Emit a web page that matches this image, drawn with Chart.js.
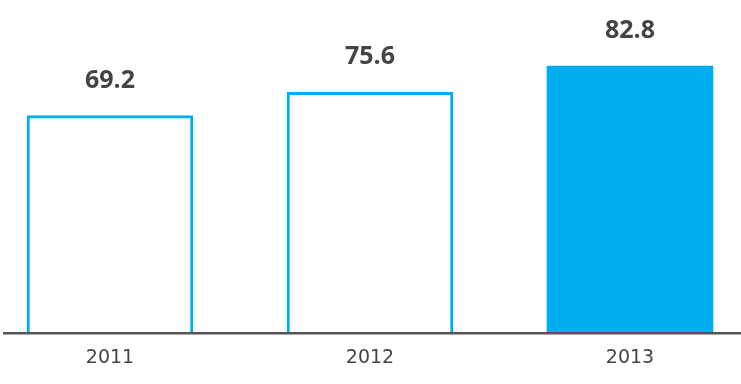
<!DOCTYPE html>
<html>
<head>
<meta charset="utf-8">
<script src="https://cdn.jsdelivr.net/npm/chart.js@4/dist/chart.umd.min.js"></script>
<style>
  html, body { margin: 0; padding: 0; background: #fff; }
  #wrap { width: 741px; height: 384px; }
</style>
</head>
<body>
<div id="wrap"><canvas id="c" width="741" height="384"></canvas></div>
<script>
const years = ['2011', '2012', '2013'];
const values = [69.2, 75.6, 82.8];
const fillColors = ['#ffffff', '#ffffff', '#00aeef'];
const borderWidths = [3, 3, 0];

const points = values.map((v, i) => ({ x: i, y: v }));

const overlay = {
  id: 'overlay',
  afterDatasetsDraw(chart) {
    const ctx = chart.ctx;
    const area = chart.chartArea;
    ctx.save();
    // axis baseline over the bars
    ctx.strokeStyle = '#555555';
    ctx.lineWidth = 2.5;
    ctx.beginPath();
    ctx.moveTo(area.left, area.bottom);
    ctx.lineTo(area.right, area.bottom);
    ctx.stroke();
    // value labels
    const meta = chart.getDatasetMeta(0);
    ctx.font = '700 25px "Open Sans", sans-serif';
    ctx.fillStyle = '#444444';
    ctx.textAlign = 'center';
    ctx.textBaseline = 'middle';
    meta.data.forEach((bar, i) => {
      ctx.fillText(values[i].toFixed(1), bar.x, bar.y - 35);
    });
    ctx.restore();
  }
};

new Chart(document.getElementById('c'), {
  type: 'bar',
  data: {
    datasets: [{
      data: points,
      backgroundColor: fillColors,
      borderColor: '#00aeef',
      borderWidth: borderWidths,
      barThickness: 166
    }]
  },
  options: {
    responsive: false,
    animation: false,
    events: [],
    layout: { padding: { left: 3, right: 0, top: 0, bottom: 2 } },
    plugins: { legend: { display: false }, tooltip: { enabled: false } },
    scales: {
      x: {
        type: 'linear',
        offset: false,
        min: -0.4115,
        max: 2.427,
        grid: { display: false, drawTicks: false },
        border: { display: false },
        afterBuildTicks: s => { s.ticks = years.map((_, i) => ({ value: i })); },
        ticks: {
          autoSkip: false,
          maxRotation: 0,
          padding: 13,
          color: '#444444',
          font: { family: 'DejaVu Sans', size: 19 },
          callback: (v, i) => years[i] ?? ''
        }
      },
      y: {
        display: false,
        min: 9.3,
        max: 101
      }
    }
  },
  plugins: [overlay]
});
</script>
</body>
</html>
